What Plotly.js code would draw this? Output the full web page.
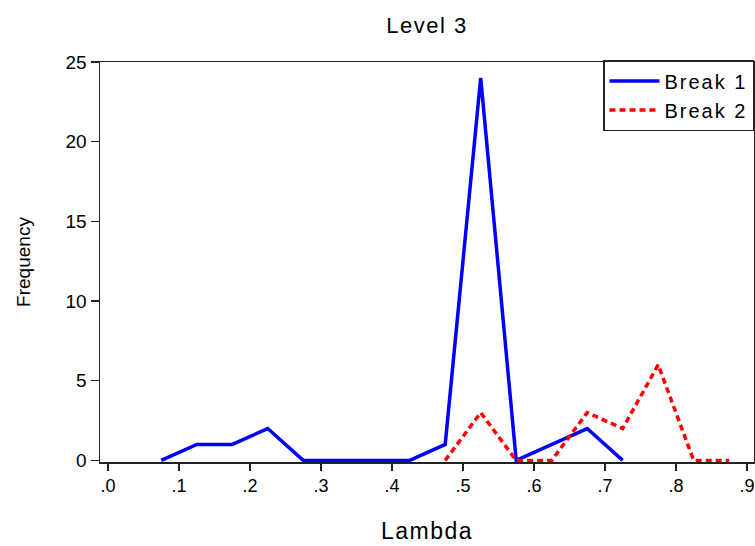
<!DOCTYPE html>
<html>
<head>
<meta charset="utf-8">
<script src="https://cdn.plot.ly/plotly-3.0.1.min.js"></script>
<style>
html, body { margin: 0; padding: 0; background: #fff; }
#chart { width: 755px; height: 546px; }
text.gtitle { letter-spacing: 1.5px; }
text.xtitle { letter-spacing: 1.5px; }
text.legendtext { letter-spacing: 2px; }
</style>
</head>
<body>
<div id="chart"></div>
<script>
// Data
const break1Lambda = [0.075, 0.125, 0.175, 0.225, 0.275, 0.325, 0.375, 0.425, 0.475, 0.525, 0.575, 0.625, 0.675, 0.725];
const break1Freq   = [0, 1, 1, 2, 0, 0, 0, 0, 1, 24, 0, 1, 2, 0];
const break2Lambda = [0.475, 0.525, 0.575, 0.625, 0.675, 0.725, 0.775, 0.825, 0.875];
const break2Freq   = [0, 3, 0, 0, 3, 2, 6, 0, 0];
const xTickVals  = [0, 0.1, 0.2, 0.3, 0.4, 0.5, 0.6, 0.7, 0.8, 0.9];
const xTickText  = [".0", ".1", ".2", ".3", ".4", ".5", ".6", ".7", ".8", ".9"];
const yTickVals  = [0, 5, 10, 15, 20, 25];
const seriesNames = ["Break 1", "Break 2"];

const FONT = "Liberation Sans, Arial, Helvetica, sans-serif";

const traces = [
  {
    x: break1Lambda, y: break1Freq, name: seriesNames[0],
    type: "scatter", mode: "lines",
    line: { color: "#0000ff", width: 3.5 }
  },
  {
    x: break2Lambda, y: break2Freq, name: seriesNames[1],
    type: "scatter", mode: "lines",
    line: { color: "#ff0000", width: 3.5, dash: "6px,4px" }
  }
];

const layout = {
  width: 755, height: 546,
  margin: { l: 100, r: 1, t: 62, b: 84, pad: 0 },
  paper_bgcolor: "#ffffff", plot_bgcolor: "#ffffff",
  font: { family: FONT, color: "#000000", size: 18 },
  showlegend: true,
  title: {
    text: "Level 3",
    font: { family: FONT, size: 22, color: "#000" },
    x: 0.5, xref: "paper", xanchor: "center",
    y: 0.953, yref: "container", yanchor: "middle"
  },
  xaxis: {
    range: [-0.0113, 0.91],
    tickmode: "array", tickvals: xTickVals, ticktext: xTickText,
    ticks: "outside", ticklen: 7, tickwidth: 1.5, tickcolor: "#222",
    showline: true, linecolor: "#222", linewidth: 1.5, mirror: true,
    showgrid: false, zeroline: false,
    tickfont: { family: FONT, size: 18, color: "#000" },
    title: { text: "Lambda", font: { family: FONT, size: 23, color: "#000" }, standoff: 28 }
  },
  yaxis: {
    range: [-0.1, 25],
    tickmode: "array", tickvals: yTickVals,
    ticks: "outside", ticklen: 8, tickwidth: 1.5, tickcolor: "#222",
    showline: true, linecolor: "#222", linewidth: 1.5, mirror: true,
    showgrid: false, zeroline: false,
    tickfont: { family: FONT, size: 19, color: "#000" },
    title: { text: "Frequency", font: { family: FONT, size: 19, color: "#000" }, standoff: 30 }
  },
  legend: {
    x: 1, xanchor: "right", y: 1.005, yanchor: "top",
    bgcolor: "#ffffff", bordercolor: "#222", borderwidth: 1.5,
    font: { family: FONT, size: 20, color: "#000" },
    itemwidth: 50, tracegroupgap: 0
  }
};

Plotly.newPlot("chart", traces, layout, { displayModeBar: false, staticPlot: true });
</script>
</body>
</html>
